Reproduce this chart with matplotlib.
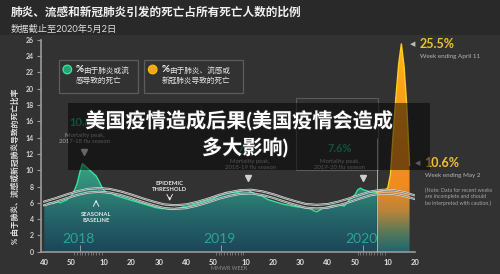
import numpy as np
import matplotlib
matplotlib.use('Agg')
import matplotlib.pyplot as plt
from matplotlib.colors import LinearSegmentedColormap
from matplotlib.patches import Rectangle, PathPatch, Circle
import matplotlib.patheffects as pe

plt.rcParams['font.family'] = ['Lato', 'Noto Sans CJK SC', 'DejaVu Sans']

# week index: 0 = MMWR week 40 of 2017
pi_weeks = np.arange(0, 123)
pi_pct = [5.7, 5.8, 6.0, 5.9, 6.0, 6.1, 6.0, 6.2, 6.3, 6.6, 6.9, 7.5, 8.3, 9.7, 10.8,
          10.5, 10.2, 9.9, 9.6, 9.3, 8.7, 8.0, 7.5, 7.2, 7.2, 7.1, 6.9, 6.8, 6.7, 6.6,
          6.5, 6.4, 6.3, 6.2, 6.1, 6.0, 5.9, 5.8, 5.7, 5.6, 5.5, 5.4, 5.35, 5.3, 5.3,
          5.25, 5.2, 5.25, 5.3, 5.35, 5.4, 5.5, 5.5, 5.6, 5.7, 5.8, 5.9, 6.0, 6.1, 6.2,
          6.3, 6.4, 6.5, 6.7, 6.9, 7.0, 7.2, 7.3, 7.2, 7.3, 7.2, 7.3, 7.4, 7.5, 7.6,
          7.5, 7.3, 7.2, 7.0, 6.9, 6.8, 6.6, 6.4, 6.3, 6.2, 6.1, 6.0, 5.9, 5.8, 5.75,
          5.7, 5.6, 5.55, 5.5, 5.45, 5.4, 5.35, 5.3, 5.2, 5.0, 4.9, 5.1, 5.3, 5.4,
          5.5, 5.6, 5.7, 5.7, 5.75, 5.7, 5.6, 6.0, 6.4, 6.7, 7.0, 7.6, 7.8, 7.6, 7.5,
          7.4, 7.3, 7.3, 7.3]
covid_weeks = np.arange(122, 135)
covid_pct = [7.3, 7.4, 7.5, 7.6, 7.8, 9.5, 14.5, 19.0, 23.0, 25.5, 22.7, 17.8, 10.6]
base_weeks = np.arange(0, 137, 4)
baseline = [5.7, 6.1, 6.55, 6.95, 7.25, 7.35, 7.25, 6.95, 6.55, 6.1, 5.7, 5.35, 5.25,
            5.35, 5.65, 6.05, 6.5, 6.85, 7.1, 7.15, 6.95, 6.6, 6.15, 5.75, 5.4, 5.3,
            5.4, 5.7, 6.1, 6.55, 6.95, 7.15, 7.1, 6.85, 6.45]
threshold = [6.15, 6.55, 7.0, 7.4, 7.7, 7.8, 7.7, 7.4, 7.0, 6.55, 6.15, 5.8, 5.7,
             5.8, 6.1, 6.5, 6.95, 7.3, 7.55, 7.6, 7.4, 7.05, 6.6, 6.2, 5.85, 5.75,
             5.85, 6.15, 6.55, 7.0, 7.4, 7.6, 7.55, 7.3, 6.9]

tick_pos = [0, 10, 22, 32, 42, 52, 62, 74, 84, 94, 104, 114, 126, 136]
tick_lab = ['40', '50', '10', '20', '30', '40', '50', '10', '20', '30', '40', '50', '10', '20']
year_pos = [13, 65, 117]
year_lab = ['2018', '2019', '2020']
peak_pos = [14.6, 74.7, 116.9]
peak_lab = ['10.8%', '7.1%', '7.6%']
peak_season = ['2017-18', '2018-19', '2019-20']

W, H = 500, 274
BG = '#323232'


def px(x, y):
    return x / W, 1 - y / H


def grad_fill(ax, x, y, cmap, ymax):
    poly = ax.fill_between(x, y, 0, color='none', lw=0)
    patch = PathPatch(poly.get_paths()[0], transform=ax.transData, fc='none', ec='none')
    ax.add_patch(patch)
    grad = np.linspace(0, 1, 256).reshape(-1, 1)
    im = ax.imshow(grad, cmap=cmap, aspect='auto', origin='lower',
                   extent=[x[0], x[-1], 0, ymax], zorder=1)
    im.set_clip_path(patch)


fig = plt.figure(figsize=(5, 2.74), dpi=100, facecolor=BG)
fig.add_artist(Rectangle(px(0, 35), 1, 35 / H, transform=fig.transFigure,
                         fc='#292929', ec='none', zorder=-1))

ax = fig.add_axes([41 / W, 1 - 251.7 / H, 374 / W, (251.7 - 39.8) / H])
ax.set_facecolor('none')

green_cmap = LinearSegmentedColormap.from_list(
    'g', [(0, '#1c4658'), (5 / 11, '#276b6c'), (8 / 11, '#2f8a78'), (1, '#3aa585')])
orange_cmap = LinearSegmentedColormap.from_list(
    'o', [(0, '#1e6570'), (2.5 / 26, '#5b7a57'), (5 / 26, '#b9843a'), (8 / 26, '#ef8b21'),
          (16 / 26, '#f7961c'), (1, '#fdb515')])

grad_fill(ax, pi_weeks, pi_pct, green_cmap, 11)
grad_fill(ax, covid_weeks, covid_pct, orange_cmap, 26)

ax.plot(pi_weeks, pi_pct, color='#37e39a', lw=1.0, zorder=4)
ax.plot(covid_weeks, covid_pct, color='#ffcc22', lw=1.0, zorder=4)
ax.vlines(covid_weeks[0], 0, 14, color='#bdbdbd', lw=0.6, zorder=3)

for series in (threshold, baseline):
    ax.plot(base_weeks, series, color='#dcdcdc', lw=1.5, zorder=5)
    ax.plot(base_weeks, series, color='#5f6f70', lw=0.5, zorder=6)

ax.set_xlim(-1.21, 136.0)
ax.set_ylim(0, 26)
for s in ('top', 'right'):
    ax.spines[s].set_visible(False)
for s in ('left', 'bottom'):
    ax.spines[s].set_color('#9a9a9a')
    ax.spines[s].set_linewidth(1.2)

ax.set_yticks(np.arange(0, 27, 2))
ax.tick_params(axis='y', length=3, width=0.8, color='#9a9a9a', labelsize=5,
               labelcolor='#d0d0d0', pad=2)
for t in ax.get_yticklabels():
    t.set_fontweight('bold')
ax.set_xticks(tick_pos)
ax.set_xticklabels(tick_lab, fontsize=5.5, fontweight='bold', color='#e0e0e0')
ax.tick_params(axis='x', length=0, pad=5)
minor = list(range(10, 23)) + list(range(62, 75)) + list(range(114, 127))
ax.set_xticks(minor, minor=True)
ax.tick_params(axis='x', which='minor', length=2.5, width=0.5, color='#8a8a8a', direction='out')
for p in year_pos:
    ax.vlines(p, 0, 0.8, color='#9a9a9a', lw=0.7, zorder=3)

for p, lab in zip(year_pos, year_lab):
    ax.text(p - 0.6, 1.6, lab, ha='center', va='center', fontsize=10,
            color='#2aa596', zorder=7)

# seasonal annotations
ax.annotate('', xy=(19, 6.7), xytext=(19, 5.7),
            arrowprops=dict(arrowstyle='->', color='white', lw=0.6), zorder=7)
ax.text(19, 4.9, 'SEASONAL\nBASELINE', ha='center', va='top', fontsize=4.2,
        fontweight='bold', color='#e8e8e8', linespacing=1.3, zorder=7)
ax.annotate('', xy=(46, 5.9), xytext=(46, 7.0),
            arrowprops=dict(arrowstyle='->', color='white', lw=0.6), zorder=7)
ax.text(46, 7.3, 'EPIDEMIC\nTHRESHOLD', ha='center', va='bottom', fontsize=4.2,
        fontweight='bold', color='#e8e8e8', linespacing=1.3, zorder=7)

# mortality peaks
tri_y = [12.2, 9.0, 9.0]
lab_x = [14.9, 75.5, 108.5]
lab_y = [15.9, 12.7, 12.7]
for p, ty, lx, ly, lab, season in zip(peak_pos, tri_y, lab_x, lab_y, peak_lab, peak_season):
    ax.plot(p, ty, marker='v', ms=4, color='#cfcfcf', zorder=7)
    ax.text(lx, ly, lab, ha='center', va='center', fontsize=8, fontweight='bold',
            color='#1fa57a', zorder=7)
    ax.text(lx, ly - 1.3, 'Mortality peak,\n' + season + ' flu season', ha='center',
            va='top', fontsize=4.3, color='#a8a8a8', linespacing=1.25, zorder=7)
ax.add_patch(Rectangle((92.5, 10.0), 30, 8.9, fill=False, ec='#5a5a5a', lw=0.8, zorder=2))

# covid callouts
ax.text(135.3, 25.5, '\u25c0', fontsize=5, color='#bbbbbb', ha='center', va='center',
        family='DejaVu Sans', clip_on=False)
ax.text(137.6, 25.5, '25.5%', fontsize=9, fontweight='bold', color='#f2c12e',
        ha='left', va='center', clip_on=False)
ax.text(137.8, 23.9, 'Week ending April 11', fontsize=4.5, color='#b5b5b5',
        ha='left', va='center', clip_on=False)
ax.text(137.1, 10.9, '\u25c0', fontsize=5, color='#bbbbbb', ha='center', va='center',
        family='DejaVu Sans', clip_on=False)
ax.text(139.3, 10.9, '10.6%', fontsize=9, fontweight='bold', color='#f2c12e',
        ha='left', va='center', clip_on=False)
ax.text(139.5, 9.3, 'Week ending May 2', fontsize=4.5, color='#b5b5b5',
        ha='left', va='center', clip_on=False)
ax.text(139.5, 7.9, '(Note: Data for recent weeks\nare incomplete and should\nbe interpreted with caution.)',
        fontsize=3.8, color='#a5a5a5', ha='left', va='top', linespacing=1.35, clip_on=False)

fig.text(229 / W, 1 - 268 / H, 'MMWR WEEK', fontsize=4, color='#8c8c8c', ha='center', va='center')

# titles
fig.text(*px(11, 12), '肺炎、流感和新冠肺炎引发的死亡占所有死亡人数的比例', fontsize=8.4,
         fontweight='bold', color='#f0f0f0', ha='left', va='center')
fig.text(*px(11, 29), '数据截止至2020年5月2日', fontsize=6.7, color='#dddddd',
         ha='left', va='center')
fig.text(*px(15, 166), '% 由于肺炎、流感或新冠肺炎导致的死亡比率', fontsize=5.6, rotation=90,
         fontweight='bold', color='#e0e0e0', ha='center', va='center')

# legend boxes
fig.add_artist(Rectangle(px(59, 93), 79 / W, 33 / H, transform=fig.transFigure,
                         fill=False, ec='#5c5c5c', lw=0.9))
fig.add_artist(Rectangle(px(144, 93), 99 / W, 33 / H, transform=fig.transFigure,
                         fill=False, ec='#5c5c5c', lw=0.9))
ax_leg = fig.add_axes([0, 0, 1, 1], facecolor='none')
ax_leg.set_xlim(0, W)
ax_leg.set_ylim(H, 0)
ax_leg.axis('off')
ax_leg.add_patch(Circle((67.3, 69.5), 4.3, fc='#1fa57a', ec='#3be89a', lw=0.9))
ax_leg.add_patch(Circle((152.7, 69.5), 4.3, fc='#f5a31d', ec='#f5c000', lw=0.9))
ax_leg.text(76, 70, '%', fontsize=7, fontweight='bold', color='white', va='center')
ax_leg.text(83, 70, '由于肺炎或流', fontsize=5.5, color='#e6e6e6', va='center')
ax_leg.text(76, 80.5, '感导致的死亡', fontsize=5.5, color='#e6e6e6', va='center')
ax_leg.text(162, 70, '%', fontsize=7, fontweight='bold', color='white', va='center')
ax_leg.text(169, 70, '由于肺炎、流感或', fontsize=5.5, color='#e6e6e6', va='center')
ax_leg.text(162, 80.5, '新冠肺炎导致的死亡', fontsize=5.5, color='#e6e6e6', va='center')

# overlay banner
ax_leg.add_patch(Rectangle((68, 103), 362, 67, fc='black', alpha=0.5, ec='none', zorder=10))
shadow = [pe.withStroke(linewidth=1.5, foreground='#202020')]
ax_leg.text(239, 121, '美国疫情造成后果(美国疫情会造成', fontsize=14.5, fontweight='bold',
            color='white', ha='center', va='center', zorder=11, path_effects=shadow)
ax_leg.text(245, 148, '多大影响)', fontsize=14.5, fontweight='bold',
            color='white', ha='center', va='center', zorder=11, path_effects=shadow)

fig.savefig('out.png', dpi=100, facecolor=BG)
